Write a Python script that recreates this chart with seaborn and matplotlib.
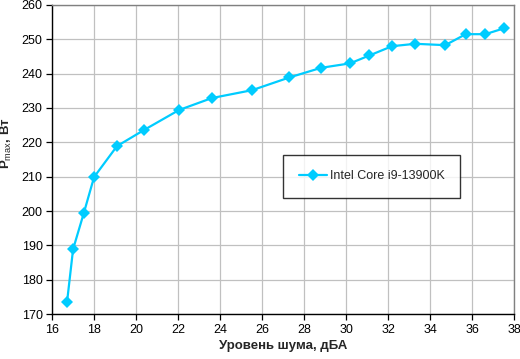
import matplotlib
matplotlib.use("Agg")
import matplotlib.pyplot as plt
import seaborn as sns
import pandas as pd

# noise level, dBA
noise_dba = [16.7, 16.99, 17.5, 17.99, 19.08, 20.37, 22.03, 23.6, 25.52, 27.29,
             28.8, 30.18, 31.1, 32.18, 33.29, 34.71, 35.69, 36.62, 37.51]
# max power, W
power_w = [173.4, 188.9, 199.4, 209.9, 218.9, 223.6, 229.4, 232.9, 235.2, 238.9,
           241.7, 243.0, 245.3, 248.0, 248.7, 248.3, 251.5, 251.5, 253.2]
series_name = "Intel Core i9-13900K"

x_ticks = list(range(16, 39, 2))
y_ticks = list(range(170, 261, 10))

sns.set_style("white")
plt.rcParams["font.family"] = ["Liberation Sans", "DejaVu Sans"]
plt.rcParams["mathtext.fontset"] = "custom"
plt.rcParams["mathtext.rm"] = "Liberation Sans"

df = pd.DataFrame({"noise": noise_dba, "power": power_w})

fig = plt.figure(figsize=(5.2, 3.59), dpi=100)
ax = fig.add_axes([0.1006, 0.1253, 0.8884, 0.8608])

sns.lineplot(data=df, x="noise", y="power", ax=ax, color="#00CCFF",
             linewidth=1.6, marker="D", markersize=6.5, markeredgewidth=0,
             label=series_name)

ax.set_xlim(16, 38)
ax.set_ylim(170, 260)
ax.set_xticks(x_ticks)
ax.set_yticks(y_ticks)
ax.grid(True, color="#C0C0C0", linewidth=0.9)
ax.set_axisbelow(True)

for side in ["top", "right"]:
    ax.spines[side].set_color("#808080")
    ax.spines[side].set_linewidth(1.0)
for side in ["left", "bottom"]:
    ax.spines[side].set_color("black")
    ax.spines[side].set_linewidth(1.0)

ax.tick_params(axis="both", direction="out", length=4, width=0.9,
               colors="black", labelsize=9, left=True, bottom=True, pad=3)

ax.set_xlabel("Уровень шума, дБА", fontsize=9.5, fontweight="bold", labelpad=3)
ax.set_ylabel(r"P$_{\mathrm{max}}$, Вт", fontsize=9.5, fontweight="bold")
ax.yaxis.set_label_coords(-0.082, 0.553)

leg = ax.legend(loc="upper left", bbox_to_anchor=(0.5, 0.515),
                fontsize=9, frameon=True, fancybox=False, borderaxespad=0,
                handlelength=2.25, handletextpad=0.2, borderpad=1.25)
leg.get_frame().set_edgecolor("black")
leg.get_frame().set_linewidth(1.0)

fig.savefig("out.png", dpi=100)
